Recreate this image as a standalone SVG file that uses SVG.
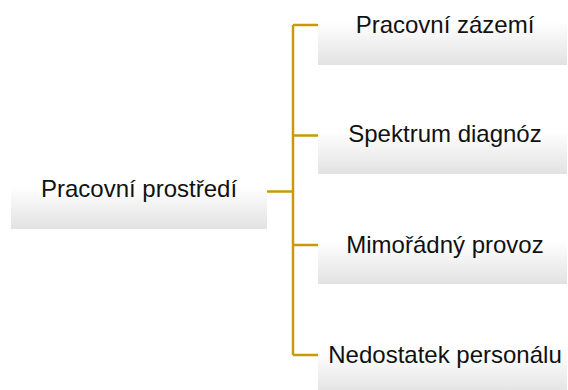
<svg xmlns="http://www.w3.org/2000/svg" width="568" height="390" viewBox="0 0 568 390">
<defs>
<linearGradient id="g" x1="0" y1="0" x2="0" y2="1">
<stop offset="0" stop-color="#ffffff"/>
<stop offset="0.45" stop-color="#ffffff"/>
<stop offset="1" stop-color="#e2e2e2"/>
</linearGradient>
<style>
.box{fill:url(#g);stroke:none}
.t{font-family:"Liberation Sans",Arial,sans-serif;font-size:24px;fill:#111;text-anchor:middle}
.c{stroke:#c99a08;stroke-width:2.5;fill:none}
</style>
</defs>
<rect width="568" height="390" fill="#fff"/>
<g id="connectors">
<path class="c" d="M267 191.5H293M293 25V355M293 25H318M293 135.5H318M293 245H318M293 355H318"/>
</g>
<g id="root">
<rect class="box" x="11" y="152" width="256" height="77"/>
<text class="t" x="139" y="197">Pracovní prostředí</text>
</g>
<g id="n1">
<rect class="box" x="318" y="-14" width="249" height="79"/>
<text class="t" x="445" y="33">Pracovní zázemí</text>
</g>
<g id="n2">
<rect class="box" x="318" y="96" width="249" height="78"/>
<text class="t" x="445" y="142">Spektrum diagnóz</text>
</g>
<g id="n3">
<rect class="box" x="318" y="206" width="249" height="78"/>
<text class="t" x="445" y="253">Mimořádný provoz</text>
</g>
<g id="n4">
<rect class="box" x="318" y="316" width="249" height="78"/>
<text class="t" x="445" y="363">Nedostatek personálu</text>
</g>
</svg>
